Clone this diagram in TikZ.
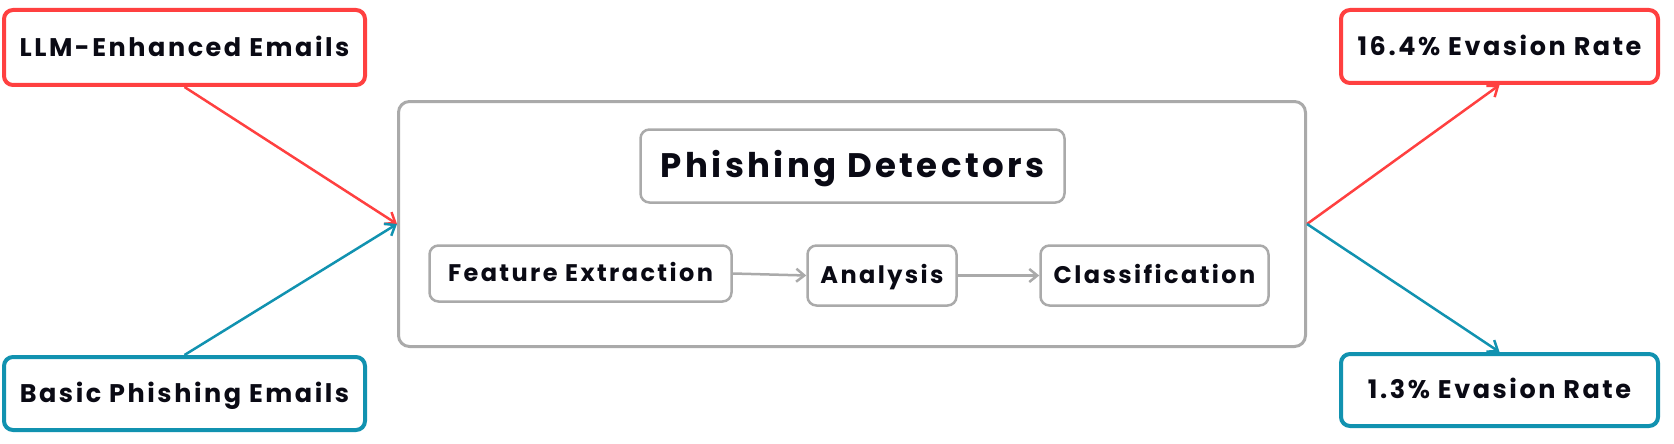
\documentclass[tikz,border=0pt]{standalone}
\usepackage{fontspec}
\setmainfont{Poppins}[LetterSpace=10]
\usetikzlibrary{arrows.meta}
\definecolor{cred}{HTML}{FF4040}
\definecolor{cteal}{HTML}{1192B0}
\definecolor{cgray}{HTML}{AAAAAA}
\definecolor{ctext}{HTML}{0A0A14}
\tikzset{
  colbox/.style={draw, line width=4pt, rounded corners=9pt, fill=white, inner sep=0pt,
    text=ctext, font=\fontsize{25.5}{30}\selectfont\bfseries, text height=17.8pt, text depth=0pt},
  redbox/.style={colbox, draw=cred},
  tealbox/.style={colbox, draw=cteal},
  graybox/.style={draw=cgray, line width=2.5pt, rounded corners=9pt, fill=white, inner sep=0pt,
    text=ctext, font=\fontsize{24}{28}\selectfont\bfseries, text height=16.7pt, text depth=0pt},
  titlebox/.style={graybox, font=\fontsize{34}{40}\selectfont\bfseries, text height=23.7pt},
  bigbox/.style={draw=cgray, line width=3pt, rounded corners=11pt, inner sep=0pt},
  colarrow/.style={line width=2.5pt, -{Straight Barb[length=9pt,width=14pt,line width=2.5pt]}},
  grayarrow/.style={draw=cgray, line width=2.5pt, -{Straight Barb[length=8pt,width=13pt,line width=2.5pt]}}
}
\begin{document}
\begin{tikzpicture}[x=1pt, y=-1pt]
\useasboundingbox (0,0) rectangle (1674,444);
\node[bigbox, minimum width=907pt, minimum height=245pt] (big) at (852,224) {};
\node[titlebox, minimum width=424pt, minimum height=73pt] (pd) at (852.5,166) {Phishing Detectors};
\node[graybox, minimum width=302pt, minimum height=56pt] (fe) at (580.5,273.5) {Feature Extraction};
\node[graybox, minimum width=149pt, minimum height=60pt] (an) at (882,275.5) {Analysis};
\node[graybox, minimum width=228pt, minimum height=60pt] (cl) at (1154.5,275.5) {Classification};
\node[redbox, minimum width=361pt, minimum height=75pt] (llm) at (184.5,47.5) {LLM-Enhanced Emails};
\node[tealbox, minimum width=361pt, minimum height=73pt] (basic) at (184.5,393.5) {Basic Phishing Emails};
\node[redbox, minimum width=317pt, minimum height=73pt] (r16) at (1499.5,46.5) {16.4\% Evasion Rate};
\node[tealbox, minimum width=317pt, minimum height=72pt] (r13) at (1499.5,390) {1.3\% Evasion Rate};
\draw[grayarrow] (fe.east) -- (an.west);
\draw[grayarrow] (an.east) -- (cl.west);
\draw[colarrow, draw=cred] (llm.south) -- (big.west);
\draw[colarrow, draw=cteal] (basic.north) -- (big.west);
\draw[colarrow, draw=cred] (big.east) -- (r16.south);
\draw[colarrow, draw=cteal] (big.east) -- (r13.north);
\end{tikzpicture}
\end{document}
